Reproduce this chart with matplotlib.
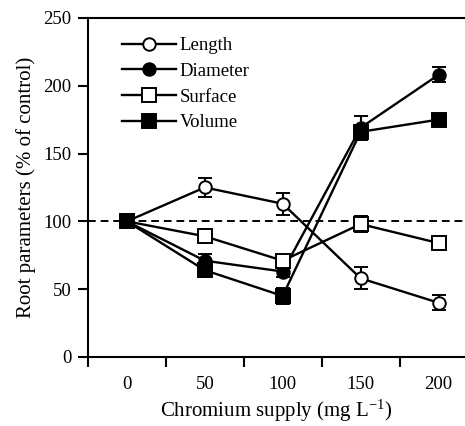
import matplotlib
matplotlib.use("Agg")
import matplotlib.pyplot as plt
from matplotlib.ticker import FixedLocator, NullFormatter
from matplotlib.lines import Line2D

plt.rcParams['font.family'] = ['Liberation Serif', 'DejaVu Serif']
plt.rcParams['mathtext.fontset'] = 'custom'
plt.rcParams['mathtext.rm'] = 'Liberation Serif'
plt.rcParams['mathtext.it'] = 'Liberation Serif:italic'

supply = [0, 50, 100, 150, 200]
length = [100, 125, 113, 58, 40]
length_err = [0, 7, 8, 8, 5.5]
diameter = [100, 71, 63, 169, 208]
diameter_err = [0, 5, 4, 9, 5.5]
surface = [100, 89, 71, 98, 84]
surface_err = [0, 3, 3, 6, 3]
volume = [100, 64, 45, 166, 175]
volume_err = [0, 5, 6, 5, 4]
tick_labels = ['0', '50', '100', '150', '200']

fig = plt.figure(figsize=(4.65, 4.26), dpi=100)
ax = fig.add_axes([0.189, 0.162, 0.811, 0.796])

ax.axhline(100, color='black', lw=1.4, ls=(0, (4, 2.5)), zorder=1)

common = dict(color='black', lw=1.7, capsize=5, capthick=1.5, elinewidth=1.5,
              markeredgecolor='black', markeredgewidth=1.4, zorder=3)
series = [
    ('Length', length, length_err, 'o', 9, 'white'),
    ('Diameter', diameter, diameter_err, 'o', 9, 'black'),
    ('Surface', surface, surface_err, 's', 10, 'white'),
    ('Volume', volume, volume_err, 's', 10, 'black'),
]
handles = []
for name, vals, errs, mk, ms, fc in series:
    ax.errorbar(supply, vals, yerr=errs, marker=mk, markersize=ms,
                markerfacecolor=fc, **common)
    handles.append(Line2D([], [], color='black', lw=1.7, marker=mk, markersize=ms,
                          markerfacecolor=fc, markeredgecolor='black',
                          markeredgewidth=1.4, label=name))

ax.set_xlim(-25, 217)
ax.set_ylim(0, 250)
ax.spines['right'].set_visible(False)
for s in ['left', 'top', 'bottom']:
    ax.spines[s].set_linewidth(1.5)

ax.xaxis.set_major_locator(FixedLocator([-25, 25, 75, 125, 175]))
ax.xaxis.set_major_formatter(NullFormatter())
ax.xaxis.set_minor_locator(FixedLocator(supply))
ax.set_xticklabels(tick_labels, minor=True)
ax.tick_params(axis='x', which='major', direction='out', length=7, width=1.5)
ax.tick_params(axis='x', which='minor', length=0, pad=14, labelsize=13.5)
ax.set_yticks([0, 50, 100, 150, 200, 250])
ax.tick_params(axis='y', direction='out', length=7, width=1.5, labelsize=13.5, pad=5)

ax.set_xlabel('Chromium supply (mg L$^{-1}$)', fontsize=15, labelpad=3)
ax.set_ylabel('Root parameters (% of control)', fontsize=15, labelpad=5)

ax.legend(handles=handles, loc='upper left', bbox_to_anchor=(0.07, 0.965), frameon=False,
          fontsize=13.5, handlelength=2.9, handletextpad=0.2,
          labelspacing=0.45, borderaxespad=0)

fig.savefig('out.png', dpi=100)
